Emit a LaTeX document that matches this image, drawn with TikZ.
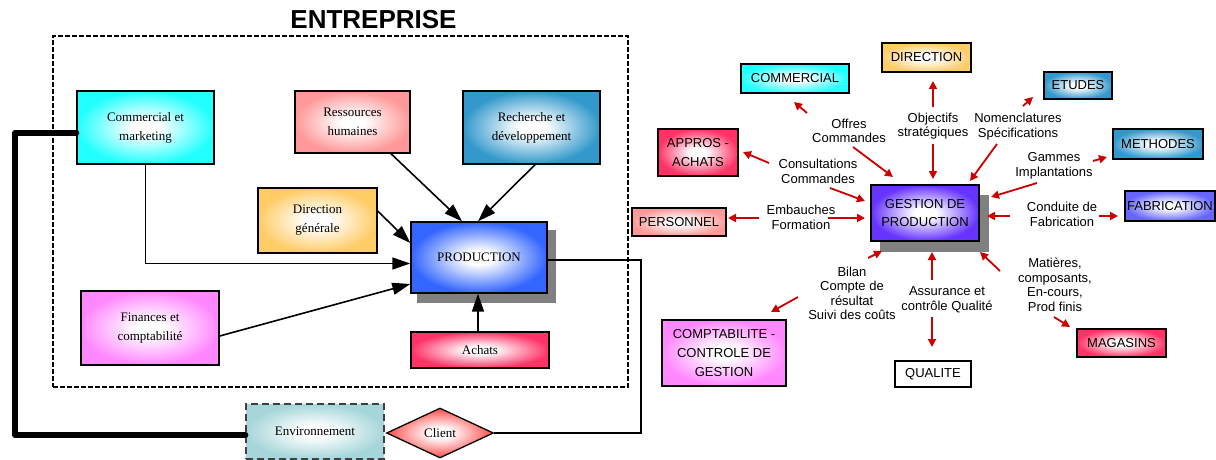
\documentclass[tikz,border=0pt]{standalone}
\usepackage{fontspec}
\setmainfont{Liberation Serif}
\setsansfont{Liberation Sans}
\usetikzlibrary{arrows.meta,shapes.geometric}
\makeatletter
\pgfdeclareradialshading[tikz@radial@inner,tikz@radial@outer]{boxrad}{\pgfpoint{0bp}{0bp}}{color(0bp)=(tikz@radial@inner); color(5bp)=(tikz@radial@inner); color(25bp)=(tikz@radial@outer); color(50bp)=(tikz@radial@outer)}
\makeatother
\definecolor{cyanC}{HTML}{22FFFF}
\definecolor{rhC}{HTML}{FF9999}
\definecolor{rdC}{HTML}{3399CC}
\definecolor{dgC}{HTML}{FFCC66}
\definecolor{prodC}{HTML}{3366FF}
\definecolor{finC}{HTML}{FF88FF}
\definecolor{achC}{HTML}{FF3366}
\definecolor{envC}{HTML}{A6D6DA}
\definecolor{cliC}{HTML}{FF4B4B}
\definecolor{gpC}{HTML}{6633FF}
\definecolor{fabC}{HTML}{6666FF}
\definecolor{shadC}{HTML}{808080}
\definecolor{arrC}{HTML}{CC0000}
\tikzset{
  fillc/.style={inner color=white, outer color=#1, shading=boxrad},
  lbox/.style={draw, line width=1.4pt, inner sep=0pt, align=center, font=\fontsize{13}{19}\selectfont},
  rbox/.style={draw, line width=1.8pt, inner sep=0pt, align=center, font=\sffamily\fontsize{13}{18.5}\selectfont},
  rlab/.style={inner sep=0pt, align=center, font=\sffamily\fontsize{13}{14.5}\selectfont},
  blk/.style={draw, line width=1.6pt, -{Triangle[length=18pt,width=12pt]}},
  rarr/.style={draw=arrC, line width=1.8pt, -{Triangle[length=8pt,width=8pt]}, color=arrC},
  shad/.style={fill=shadC, draw=none}
}
\begin{document}
\begin{tikzpicture}[x=1pt,y=-1pt]
\useasboundingbox (0,0) rectangle (1216,460);

% ===== Left part: ENTREPRISE =====
\node[font=\sffamily\bfseries\fontsize{26}{30}\selectfont] (title) at (373.5,20) {ENTREPRISE};
\node[draw, line width=1.6pt, dash pattern=on 5pt off 2pt, minimum width=575pt, minimum height=351pt, inner sep=0pt] (ent) at (340.5,211.5) {};

\node[lbox, fillc=cyanC, minimum width=137pt, minimum height=73pt] (com) at (145.5,127.5) {Commercial et\\marketing};
\node[lbox, fillc=rhC, minimum width=115pt, minimum height=62pt] (rh) at (352.5,122) {Ressources\\humaines};
\node[lbox, fillc=rdC, minimum width=137pt, minimum height=73pt] (rd) at (531.5,127.5) {Recherche et\\développement};
\node[lbox, fillc=dgC, minimum width=119pt, minimum height=65pt] (dg) at (317.5,220.5) {Direction\\générale};
\fill[shad] (417,230) rectangle (556,303);
\node[lbox, fillc=prodC, minimum width=136pt, minimum height=71pt] (prod) at (479,257.5) {PRODUCTION};
\node[lbox, fillc=finC, minimum width=138pt, minimum height=74pt] (fin) at (150,328) {Finances et\\comptabilité};
\node[lbox, fillc=achC, minimum width=138pt, minimum height=36pt] (ach) at (480,350) {Achats};
\node[lbox, fillc=envC, draw=black!75, line width=1.2pt, dash pattern=on 7pt off 4pt, minimum width=138pt, minimum height=55pt] (env) at (315,431.5) {Environnement};
\node[diamond, aspect=2, draw=black, line width=1.3pt, fillc=cliC, minimum width=107pt, minimum height=50pt, inner sep=0pt, font=\fontsize{13}{15}\selectfont] (cli) at (440,433) {Client};

\coordinate (k1) at (15,133);
\coordinate (k2) at (15,435);
\draw[line width=6pt, line cap=round, line join=round] ([yshift=-5.5pt]com.west) -- (k1) -- (k2) -- ([yshift=-3.5pt]env.west);

\draw[blk] (com.south) |- ([yshift=-6pt]prod.west);
\draw[blk] ([yshift=-8pt]fin.east) -- ([yshift=-26.5pt]prod.west);
\draw[blk] ([yshift=9.5pt]dg.east) -- ([yshift=14.5pt]prod.west);
\draw[blk] ([xshift=38.5pt]rh.south) -- ([xshift=-17pt]prod.north);
\draw[blk] ([xshift=3.5pt]rd.south) -- ([xshift=-1pt]prod.north);
\draw[blk] ([xshift=-2pt]ach.north) -- ([xshift=-1pt]prod.south);
\coordinate (c1) at (641,260);
\draw[line width=1.6pt] ([yshift=-2.5pt]prod.east) -- (c1) |- (cli.east);

% ===== Right part: GESTION DE PRODUCTION =====
\fill[shad] (880,195) rectangle (989,252);
\node[rbox, fillc=gpC, minimum width=108pt, minimum height=56pt] (gp) at (925,213) {GESTION DE\\PRODUCTION};
\node[rbox, fillc=dgC, minimum width=89pt, minimum height=29pt] (dirR) at (926.5,57.5) {DIRECTION};
\node[rbox, fillc=cyanC, minimum width=108pt, minimum height=29pt] (comR) at (795,78.5) {COMMERCIAL};
\node[rbox, fillc=rdC, minimum width=68pt, minimum height=27pt] (etu) at (1078,85.5) {ETUDES};
\node[rbox, fillc=achC, minimum width=80pt, minimum height=47pt] (app) at (698,152.5) {APPROS -\\ACHATS};
\node[rbox, fillc=rdC, minimum width=90pt, minimum height=30pt] (met) at (1158,144) {METHODES};
\node[rbox, fillc=rhC, minimum width=94pt, minimum height=28pt] (pers) at (679,222) {PERSONNEL};
\node[rbox, fillc=fabC, minimum width=90pt, minimum height=30pt] (fab) at (1170,206) {FABRICATION};
\node[rbox, fillc=finC, minimum width=124pt, minimum height=66pt, font=\sffamily\fontsize{13}{19}\selectfont] (cpt) at (724,353) {COMPTABILITE -\\CONTROLE DE\\GESTION};
\node[rbox, fill=white, minimum width=76pt, minimum height=26pt] (qual) at (933,374) {QUALITE};
\node[rbox, fillc=achC, minimum width=89pt, minimum height=28pt] (mag) at (1121.5,343) {MAGASINS};

\node[rlab] (l1) at (849,131) {Offres\\Commandes};
\node[rlab] (l2) at (933,126) {Objectifs\\stratégiques};
\node[rlab] (l3) at (1018,126.5) {Nomenclatures\\Spécifications};
\node[rlab] (l4) at (818,171.5) {Consultations\\Commandes};
\node[rlab] (l5) at (1054,166) {Gammes\\Implantations};
\node[rlab] (l6) at (801,217.5) {Embauches\\Formation};
\node[rlab] (l7) at (1062,214.5) {Conduite de\\Fabrication};
\node[rlab] (l8) at (852,293.5) {Bilan\\Compte de\\résultat\\Suivi des coûts};
\node[rlab] (l9) at (947,300) {Assurance et\\contrôle Qualité};
\node[rlab] (l10) at (1055,285) {Matières,\\composants,\\En-cours,\\Prod finis};

% arrow end points
\coordinate (a1s) at (807,113);  \coordinate (a1e) at (794,102);
\coordinate (a2s) at (853,147);  \coordinate (a2e) at (893,177);
\coordinate (a3s) at (933,107);  \coordinate (a3e) at (933,81);
\coordinate (a4s) at (933,144);  \coordinate (a4e) at (933,179);
\coordinate (a5s) at (1023,106); \coordinate (a5e) at (1033,97);
\coordinate (a6s) at (997,144);  \coordinate (a6e) at (970,181);
\coordinate (a7s) at (769,163);  \coordinate (a7e) at (743,152);
\coordinate (a8s) at (830,188);  \coordinate (a8e) at (865,201);
\coordinate (a9s) at (1093,161); \coordinate (a9e) at (1107,157);
\coordinate (a10s) at (1037,183); \coordinate (a10e) at (991,197);
\coordinate (a11s) at (759,218); \coordinate (a11e) at (728,218);
\coordinate (a12s) at (828,218); \coordinate (a12e) at (865,218);
\coordinate (a13s) at (1010,216); \coordinate (a13e) at (987,216);
\coordinate (a14s) at (1099,216); \coordinate (a14e) at (1118,216);
\coordinate (a15s) at (868,258); \coordinate (a15e) at (882,251);
\coordinate (a16s) at (798,297); \coordinate (a16e) at (771,312);
\coordinate (a17s) at (932,280); \coordinate (a17e) at (932,252);
\coordinate (a18s) at (932,317); \coordinate (a18e) at (932,347);
\coordinate (a19s) at (1000,271); \coordinate (a19e) at (980,252);
\coordinate (a20s) at (1054,317); \coordinate (a20e) at (1070,327);
\foreach \i in {1,...,20} {\draw[rarr] (a\i s) -- (a\i e);}
\end{tikzpicture}
\end{document}
